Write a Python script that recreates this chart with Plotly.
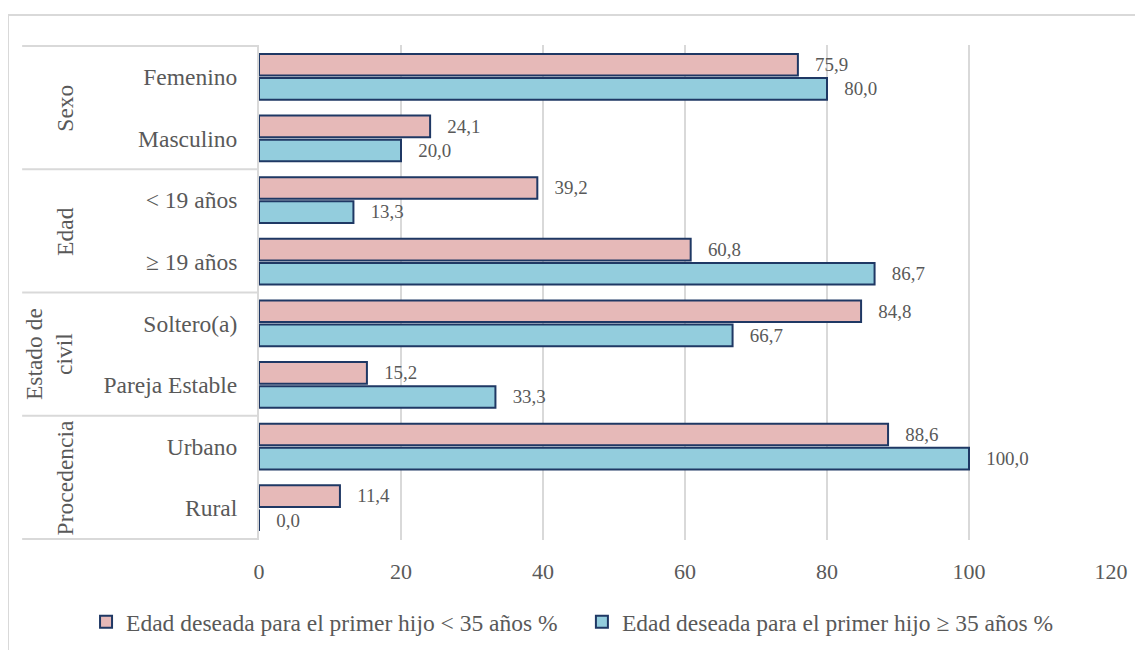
import plotly.graph_objects as go

categories = ["Femenino", "Masculino", "< 19 años", "≥ 19 años",
              "Soltero(a)", "Pareja Estable", "Urbano", "Rural"]
groups = ["Sexo", "Edad", "Estado de<br>civil", "Procedencia"]
series_names = ["Edad deseada para el primer hijo < 35 años %",
                "Edad deseada para el primer hijo ≥ 35 años %"]
menor35 = [75.9, 24.1, 39.2, 60.8, 84.8, 15.2, 88.6, 11.4]
mayor35 = [80.0, 20.0, 13.3, 86.7, 66.7, 33.3, 100.0, 0.0]
x_ticks = [0, 20, 40, 60, 80, 100, 120]

FONT = "Times New Roman, Liberation Serif, serif"
TXT = "#595959"
GRID = "#D9D9D9"
NAVY = "#1F3864"

fig = go.Figure()
for name, vals, col, leg in [(series_names[0], menor35, "#E6B9B8", "legend"),
                             (series_names[1], mayor35, "#93CDDD", "legend2")]:
    fig.add_trace(go.Bar(
        y=categories, x=vals, name=name, orientation="h", legend=leg,
        marker=dict(color=col, line=dict(color=NAVY, width=2)),
        texttemplate="\u00a0\u00a0\u00a0%{x:.1f}", textposition="outside",
        textfont=dict(family=FONT, size=21, color=TXT),
        cliponaxis=False,
    ))

shapes = []
for b in [-0.5, 1.5, 3.5, 5.5, 7.5]:
    shapes.append(dict(type="line", xref="paper", yref="y",
                       x0=-0.278, x1=0, y0=b, y1=b,
                       line=dict(color=GRID, width=2)))
shapes.append(dict(type="line", xref="paper", yref="paper",
                   x0=-0.2946, x1=1.1, y0=1.0606, y1=1.0606,
                   line=dict(color=GRID, width=2)))
shapes.append(dict(type="line", xref="paper", yref="paper",
                   x0=-0.2946, x1=-0.2946, y0=1.0606, y1=-0.3,
                   line=dict(color=GRID, width=2)))

annotations = []
for i, g in enumerate(groups):
    xpos = -0.2465 if "<br>" in g else -0.2277
    annotations.append(dict(text=g, xref="paper", yref="y",
                            x=xpos, y=2 * i + 0.5, showarrow=False,
                            textangle=-90, xanchor="center", yanchor="middle",
                            font=dict(family=FONT, size=23.5, color=TXT)))

leg_common = dict(orientation="h", yanchor="middle", y=-0.1657,
                  xanchor="left", font=dict(family=FONT, size=23.5, color=TXT),
                  itemwidth=30, bgcolor="rgba(0,0,0,0)")

fig.update_layout(
    width=1135, height=642,
    margin=dict(l=251, r=32, t=37, b=110, autoexpand=False),
    paper_bgcolor="white", plot_bgcolor="white",
    barmode="group", bargap=0.22, bargroupgap=0.1,
    separators=",.",
    font=dict(family=FONT, size=21, color=TXT),
    xaxis=dict(range=[0, 120], tickvals=x_ticks, showgrid=True,
               gridcolor=GRID, gridwidth=1.5, zeroline=False,
               showline=False, ticks="", ticklabelstandoff=16,
               automargin=False,
               tickfont=dict(family=FONT, size=22, color=TXT)),
    yaxis=dict(categoryorder="array", categoryarray=categories,
               autorange="reversed", showline=True, linecolor=GRID,
               linewidth=2, ticks="", ticklabelstandoff=15,
               automargin=False,
               tickfont=dict(family=FONT, size=23.5, color=TXT)),
    legend=dict(x=-0.203, **leg_common),
    legend2=dict(x=0.379, **leg_common),
    shapes=shapes, annotations=annotations,
    showlegend=True,
)

fig.write_html("out.html")
